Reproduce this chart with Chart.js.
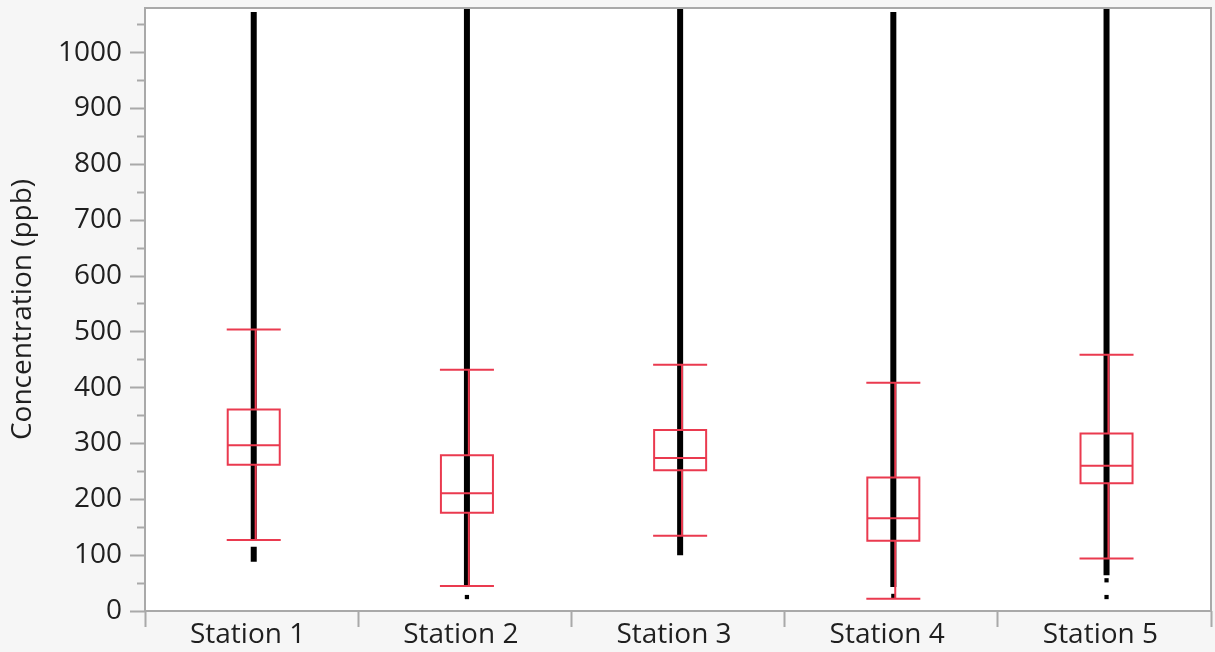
<!DOCTYPE html>
<html>
<head>
<meta charset="utf-8">
<title>Concentration by station</title>
<script src="https://cdn.jsdelivr.net/npm/chart.js@4/dist/chart.umd.min.js"></script>
<style>
  html, body { margin: 0; padding: 0; background: #f6f6f6; }
  #wrap { width: 1215px; height: 652px; }
</style>
</head>
<body>
<div id="wrap"><canvas id="chart" width="1215" height="652"></canvas></div>
<script>
// Stations along the horizontal axis
const stations = ['Station 1', 'Station 2', 'Station 3', 'Station 4', 'Station 5'];

// Box-plot summary per station (ppb)
const lowerWhisker = [127, 45, 135, 22, 94];
const quartile1    = [262, 176, 252, 126, 229];
const median       = [297, 211, 274, 166, 260];
const quartile3    = [361, 279, 324, 239, 318];
const upperWhisker = [504, 432, 441, 409, 459];

// Densely packed observations, drawn as solid runs [high, low]
const observationRuns = [
  [[1073, 127], [115, 88]],
  [[1100, 45]],
  [[1100, 100]],
  [[1073, 43]],
  [[1100, 64]]
];
// Isolated low observations
const isolatedPoints = [[], [25], [], [27], [55, 25]];

// Vertical axis range and tick spacing
const yMax = 1080;
const yMajorStep = 100;
const yMinorStep = 50;

const BOX_HALF = 0.122;
const WHISKER_SHIFT = 0.009;   // whisker sits on the right edge of the observation strip
const RED = '#ea3a4f';
const INK = '#1f1f1f';
const FRAME = '#a9a9a9';
const FONT = { family: "'Open Sans', 'Noto Sans', sans-serif", size: 28 };

const gap = i => ({ x: i, y: null });

// Solid black runs of observations
const runPoints = [];
observationRuns.forEach((runs, i) => {
  runs.forEach(([hi, lo]) => {
    runPoints.push({ x: i, y: hi }, { x: i, y: lo }, gap(i));
  });
});

const dotPoints = [];
isolatedPoints.forEach((vals, i) => vals.forEach(v => dotPoints.push({ x: i, y: v })));

// Red box, median, whiskers and caps
const boxPoints = [];
stations.forEach((_, i) => {
  const l = i - BOX_HALF, r = i + BOX_HALF, w = i + WHISKER_SHIFT;
  boxPoints.push(
    { x: l, y: quartile1[i] }, { x: r, y: quartile1[i] },
    { x: r, y: quartile3[i] }, { x: l, y: quartile3[i] },
    { x: l, y: quartile1[i] }, gap(i),
    { x: l, y: median[i] }, { x: r, y: median[i] }, gap(i),
    { x: w, y: quartile3[i] }, { x: w, y: upperWhisker[i] }, gap(i),
    { x: w, y: quartile1[i] }, { x: w, y: lowerWhisker[i] }, gap(i),
    { x: l, y: upperWhisker[i] }, { x: r, y: upperWhisker[i] }, gap(i),
    { x: l, y: lowerWhisker[i] }, { x: r, y: lowerWhisker[i] }, gap(i)
  );
});

const plotFrame = {
  id: 'plotFrame',
  beforeDatasetsDraw(chart) {
    const { ctx, chartArea: a } = chart;
    ctx.save();
    ctx.fillStyle = '#ffffff';
    ctx.fillRect(a.left, a.top, a.right - a.left, a.bottom - a.top);
    ctx.restore();
  },
  afterDraw(chart) {
    const { ctx, chartArea: a } = chart;
    ctx.save();
    ctx.strokeStyle = FRAME;
    ctx.lineWidth = 2;
    ctx.strokeRect(a.left, a.top, a.right - a.left, a.bottom - a.top);
    ctx.restore();
  }
};

new Chart(document.getElementById('chart'), {
  type: 'scatter',
  data: {
    datasets: [
      {
        label: 'Observations',
        data: runPoints,
        showLine: true,
        spanGaps: false,
        borderColor: '#000000',
        borderWidth: 6,
        pointRadius: 0,
        xAxisID: 'xv', yAxisID: 'y',
        order: 3
      },
      {
        label: 'Isolated',
        data: dotPoints,
        showLine: false,
        pointStyle: 'rect',
        pointRadius: 3,
        pointBorderWidth: 0,
        backgroundColor: '#000000',
        borderColor: '#000000',
        xAxisID: 'xv', yAxisID: 'y',
        order: 2
      },
      {
        label: 'Box plot',
        data: boxPoints,
        showLine: true,
        spanGaps: false,
        borderColor: RED,
        borderWidth: 2,
        borderCapStyle: 'square',
        borderJoinStyle: 'miter',
        pointRadius: 0,
        xAxisID: 'xv', yAxisID: 'y',
        order: 1
      }
    ]
  },
  options: {
    responsive: false,
    animation: false,
    events: [],
    layout: { padding: { left: 0, right: 2, top: 8, bottom: 0 } },
    plugins: { legend: { display: false }, tooltip: { enabled: false } },
    scales: {
      x: {
        type: 'category',
        labels: stations,
        position: 'bottom',
        offset: true,
        grid: { offset: true, drawOnChartArea: false, tickLength: 16, tickWidth: 2, tickColor: FRAME },
        border: { display: false },
        ticks: { font: FONT, color: INK, padding: -9, labelOffset: -4, autoSkip: false, maxRotation: 0 },
        afterFit(s) { s.height = 41; s.paddingLeft = 0; s.paddingRight = 0; }
      },
      xv: { type: 'linear', min: -0.51, max: 4.49, display: false },
      y: {
        type: 'linear',
        position: 'left',
        min: 0,
        max: yMax,
        ticks: {
          stepSize: yMinorStep,
          includeBounds: false,
          autoSkip: false,
          padding: 8,
          font: FONT,
          color: INK,
          callback: v => (v % yMajorStep === 0 ? String(v) : '')
        },
        grid: {
          drawOnChartArea: false,
          tickLength: 15,
          tickWidth: 2,
          tickColor: FRAME,
          tickBorderDash: ctx => (ctx.tick && ctx.tick.value % yMajorStep !== 0 ? [0, 7, 9, 0] : [])
        },
        border: { display: false },
        title: {
          display: true,
          text: 'Concentration (ppb)',
          font: FONT,
          color: INK,
          padding: { top: 6, bottom: 0 }
        },
        afterFit(s) { s.width = 145; s.paddingTop = 0; s.paddingBottom = 0; }
      }
    }
  },
  plugins: [plotFrame]
});
</script>
</body>
</html>
